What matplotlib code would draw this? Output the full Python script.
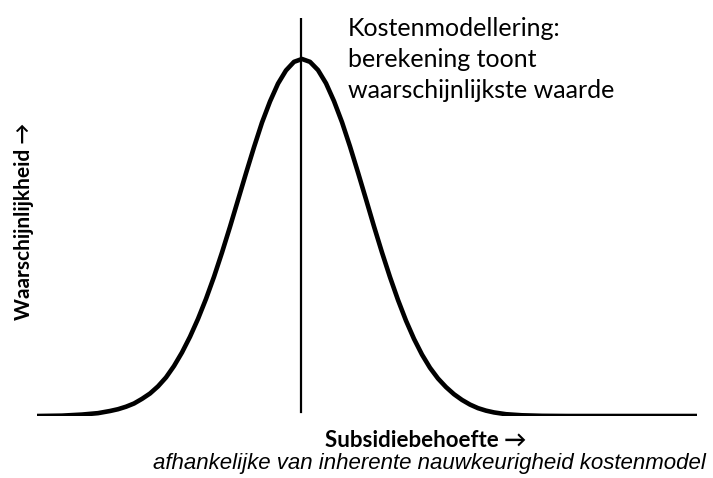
import matplotlib
matplotlib.use('Agg')
import matplotlib.pyplot as plt

# curve: position along the x axis (arbitrary units) and relative likelihood
subsidie = [0, 25, 45, 61, 73, 81, 89, 97, 105, 113, 121, 129, 137, 145, 153, 161, 169,
            177, 185, 193, 201, 209, 217, 225, 233, 241, 249, 257, 265, 273, 281, 289,
            297, 305, 313, 321, 329, 337, 345, 353, 361, 369, 377, 385, 393, 401, 409,
            417, 425, 433, 441, 449, 457, 469, 485, 505, 530, 660]
kans = [0.0, 0.001, 0.004, 0.008, 0.014, 0.019, 0.026, 0.035, 0.048, 0.063, 0.083,
        0.108, 0.14, 0.178, 0.222, 0.272, 0.328, 0.39, 0.458, 0.53, 0.605, 0.68, 0.753,
        0.822, 0.881, 0.931, 0.968, 0.992, 1.0, 0.992, 0.969, 0.932, 0.882, 0.823, 0.755,
        0.682, 0.607, 0.531, 0.458, 0.389, 0.325, 0.267, 0.216, 0.172, 0.135, 0.105,
        0.081, 0.061, 0.045, 0.032, 0.022, 0.015, 0.010, 0.005, 0.002, 0.0005, 0.0, 0.0]
modus = 264

annotatie = "Kostenmodellering:\nberekening toont\nwaarschijnlijkste waarde"
ylabel = "Waarschijnlijkheid →"
xlabel = "Subsidiebehoefte →"
xsub = "afhankelijke van inherente nauwkeurigheid kostenmodel"

W, H = 713, 478
fig = plt.figure(figsize=(W / 100, H / 100), dpi=100)
fig.patch.set_facecolor('white')

# axes spans exactly the drawn curve
ax = fig.add_axes([37 / W, (H - 416) / H, (697 - 37) / W, (416 - 18) / H])
ax.plot(subsidie, kans, color='black', lw=3.3, solid_capstyle='butt', solid_joinstyle='round')
ax.axvline(modus, ymin=0.01, ymax=1, color='black', lw=1.6)
ax.set_xlim(0, 660)
ax.set_ylim(0, 1 / 0.897)
ax.axis('off')

calibri = ['Lato', 'DejaVu Sans']
arial = ['Liberation Sans', 'DejaVu Sans']

fig.text(348 / W, 1 - 17 / H, annotatie, family=calibri, fontsize=18,
         va='top', ha='left', linespacing=1.42)
fig.text(24 / W, 1 - 221 / H, ylabel, family=calibri, fontsize=15, fontweight='bold',
         rotation=90, va='center', ha='center')
fig.text(426 / W, 1 - 447 / H, xlabel, family=calibri, fontsize=16,
         fontweight='bold', va='baseline', ha='center')
fig.text(429 / W, 1 - 469 / H, xsub, family=arial,
         fontsize=16, style='italic', va='baseline', ha='center')

fig.savefig('out.png', dpi=100, facecolor='white')
